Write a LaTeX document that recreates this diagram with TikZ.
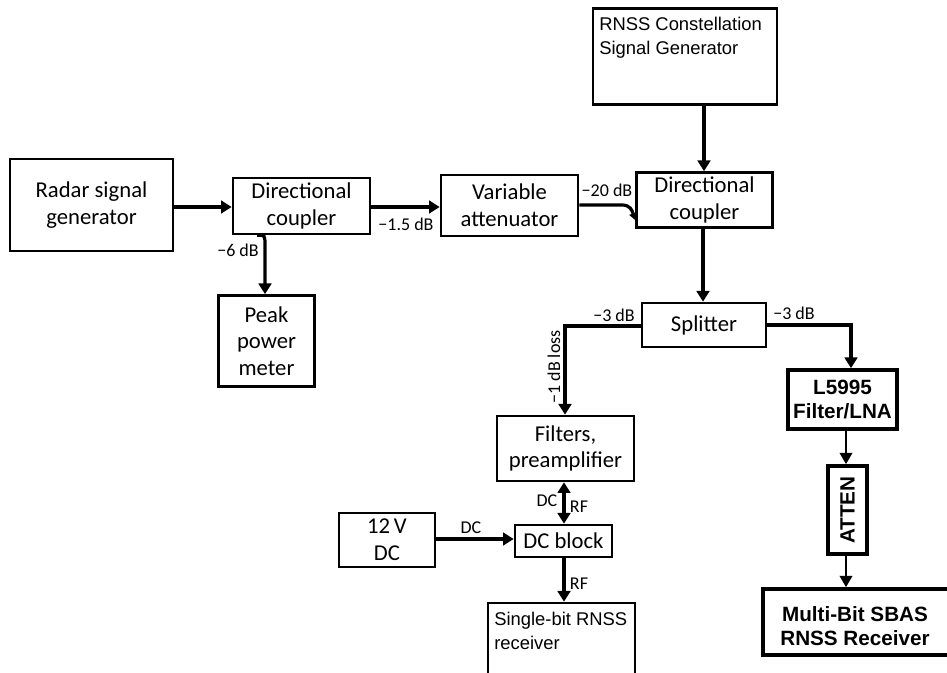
\documentclass[tikz,border=0pt]{standalone}
\usepackage{fontspec}
\setmainfont{Carlito}
\newfontfamily\arialf{Liberation Sans}
\usetikzlibrary{arrows.meta,positioning,calc}
\begin{document}
\begin{tikzpicture}[x=0.75pt,y=-0.75pt,
  blk/.style={draw,line width=2pt,inner sep=0pt,align=center,font=\fontsize{17}{20}\selectfont},
  bblk/.style={draw,line width=2.8pt,inner sep=0pt,align=center,font=\arialf\bfseries\fontsize{15.5}{18.5}\selectfont},
  conn/.style={line width=2.4pt,-{Triangle[width=9.5pt,length=8pt]}},
  thin/.style={line width=1.3pt,-{Triangle[width=9.5pt,length=8.5pt]}},
  lbl/.style={font=\fontsize{13.5}{15}\selectfont,inner sep=0pt},
  slbl/.style={font=\fontsize{13.5}{15}\selectfont,inner sep=0pt}
]
\useasboundingbox (0,0) rectangle (947,673);
% boxes
\node[blk,minimum width=163*0.75pt,minimum height=92*0.75pt] (radar) at (91.5,205) {Radar signal\\generator};
\node[blk,minimum width=137*0.75pt,minimum height=56*0.75pt] (dc1) at (301.5,206) {Directional\\coupler};
\node[blk,minimum width=96*0.75pt,minimum height=91*0.75pt] (peak) at (266.5,341) {Peak\\power\\meter};
\node[blk,minimum width=137*0.75pt,minimum height=61*0.75pt] (att) at (509.5,205.5) {Variable\\attenuator};
\node[blk,minimum width=136*0.75pt,minimum height=55*0.75pt] (dc2) at (704.5,200) {Directional\\coupler};
\node[draw,line width=2pt,minimum width=184*0.75pt,minimum height=96*0.75pt,inner sep=0pt] (rnss) at (685,56.5) {};
\node[anchor=north west,align=left,inner sep=0pt,font=\arialf\fontsize{13.8}{18}\selectfont] (rnsst) at (599,17) {RNSS Constellation\\Signal Generator};
\node[blk,minimum width=124*0.75pt,minimum height=44*0.75pt] (spl) at (704,325) {Splitter};
\node[blk,minimum width=137*0.75pt,minimum height=65*0.75pt] (filt) at (565.5,448.5) {Filters,\\preamplifier};
\node[blk,minimum width=97*0.75pt,minimum height=32*0.75pt] (dcb) at (563.5,541) {DC block};
\node[blk,minimum width=96*0.75pt,minimum height=54*0.75pt] (v12) at (387,540) {12\,V\\DC};
\node[draw,line width=2pt,minimum width=147*0.75pt,minimum height=90*0.75pt,inner sep=0pt] (sb) at (561.5,648) {};
\node[anchor=north west,align=left,inner sep=0pt,font=\arialf\fontsize{13.8}{18}\selectfont] (sbt) at (494,612) {Single-bit RNSS\\receiver};
\node[bblk,minimum width=109*0.75pt,minimum height=59*0.75pt] (lna) at (842.5,399.5) {L5995\\Filter/LNA};
\node[bblk,minimum width=39*0.75pt,minimum height=88*0.75pt] (atten) at (847.5,510) {};
\node[rotate=90,inner sep=0pt,font=\arialf\bfseries\fontsize{15.5}{18.5}\selectfont] (attent) at (847.5,510) {ATTEN};
\node[bblk,minimum width=200*0.75pt,minimum height=66*0.75pt] (mb) at (863,622) {};
\node[align=center,inner sep=0pt,font=\arialf\bfseries\fontsize{15.5}{17.5}\selectfont] (mbt) at (855,626) {Multi-Bit SBAS\\RNSS Receiver};
% connectors
\draw[conn] (radar.east |- 0,207) -- (dc1.west |- 0,207);
\draw[conn] (dc1.east |- 0,207) -- (att.west |- 0,207);
\draw[conn] (dc1.south -| 257,0) .. controls (265,235) .. (265,246) -- (peak.north -| 265,0);
\draw[line width=2.4pt,-{Triangle[width=6pt,length=5pt]}] (att.east |- 0,205) -- (622,205) .. controls (630,205) and (632,210) .. (dc2.west |- 0,220);
\draw[conn] (rnss.south -| 704,0) -- (dc2.north -| 704,0);
\draw[conn] (dc2.south -| 703,0) -- (spl.north -| 703,0);
\draw[conn] (spl.west |- 0,326) -| (filt.north -| 565,0);
\draw[conn] (spl.east |- 0,325) -| (lna.north -| 851,0);
\draw[line width=2.4pt,{Triangle[width=9.5pt,length=8pt]}-{Triangle[width=9.5pt,length=8pt]}] (filt.south -| 564,0) -- (dcb.north -| 564,0);
\draw[conn] (v12.east |- 0,539) -- (dcb.west |- 0,539);
\draw[conn] (dcb.south -| 564,0) -- (sb.north -| 564,0);
\draw[thin] (lna.south -| 846,0) -- (atten.north -| 846,0);
\draw[thin] (atten.south -| 846,0) -- (mb.north -| 846,0);
% labels
\node[lbl] (l6) at (238,250) {−6 dB};
\node[lbl] (l15) at (406,224) {−1.5 dB};
\node[lbl] (l20) at (607,190) {−20 dB};
\node[lbl] (l3a) at (614,315) {−3 dB};
\node[lbl] (l3b) at (794,313) {−3 dB};
\node[lbl,rotate=90] (l1) at (554,367) {−1 dB loss};
\node[slbl] (ldc1) at (547,501) {DC};
\node[slbl] (lrf1) at (579,507) {RF};
\node[slbl] (ldc2) at (471,528) {DC};
\node[slbl] (lrf2) at (579,584) {RF};
\end{tikzpicture}
\end{document}
